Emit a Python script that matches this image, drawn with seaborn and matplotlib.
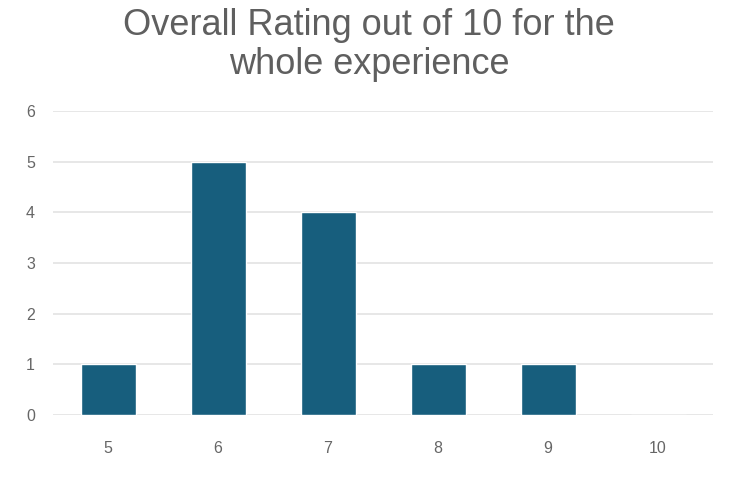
import matplotlib
matplotlib.use("Agg")
import matplotlib.pyplot as plt
import seaborn as sns
import pandas as pd

ratings = ["5", "6", "7", "8", "9", "10"]
counts = [1, 5, 4, 1, 1, 0]
title = "Overall Rating out of 10 for the\nwhole experience"

sns.set_theme(style="white")
plt.rcParams['font.family'] = ['Liberation Sans', 'DejaVu Sans']

df = pd.DataFrame({"rating": ratings, "count": counts})

fig = plt.figure(figsize=(7.38, 4.8), dpi=100)
ax = fig.add_axes([53/738, 1-415/480, 660/738, (415-111)/480])
sns.barplot(data=df, x="rating", y="count", order=ratings, color="#175e7d",
            width=0.5, saturation=1, ax=ax, zorder=3)
ax.set_ylim(0, 6)
ax.set_yticks(range(0, 7))
ax.grid(axis="y", color="#e3e3e3", linewidth=1.2, zorder=0)
ax.set_axisbelow(True)
for s in ax.spines.values():
    s.set_visible(False)
ax.set_xlabel("")
ax.set_ylabel("")
ax.tick_params(axis="both", length=0, labelsize=11.5, labelcolor="#666666")
ax.tick_params(axis="x", pad=19)
ax.tick_params(axis="y", pad=13)
fig.text(0.5, 1-8/480, title, ha="center", va="top", fontsize=26,
         color="#5f5f5f", linespacing=1.13)
fig.savefig("out.png", dpi=100)
